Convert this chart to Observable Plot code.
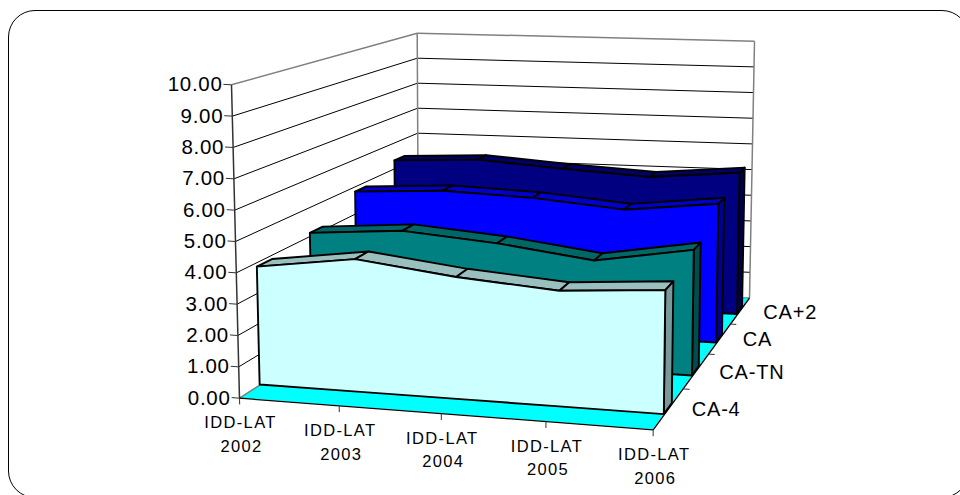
<!DOCTYPE html>
<html>
<head>
<meta charset="utf-8">
<script src="https://cdn.jsdelivr.net/npm/d3@7"></script>
<script src="https://cdn.jsdelivr.net/npm/@observablehq/plot@0.6"></script>
<style>
html,body{margin:0;padding:0;background:#fff;overflow:hidden;width:960px;height:495px}
#frame{position:absolute;left:8px;top:10px;width:959px;height:486px;border:1.6px solid #000;border-radius:27px;box-sizing:content-box}
#chart{position:absolute;left:0;top:0}
#chart svg{background:transparent;font-family:"Liberation Sans",Arial,sans-serif}
#chart svg .ylab text{letter-spacing:.7px}
#chart svg .xlab text{letter-spacing:1.35px}
#chart svg .zlab text{letter-spacing:.8px}
</style>
</head>
<body>
<div id="frame"></div>
<div id="chart"></div>
<script>
// ---- chart values ----
const years = ["IDD-LAT 2002","IDD-LAT 2003","IDD-LAT 2004","IDD-LAT 2005","IDD-LAT 2006"];
const seriesNames = ["CA-4","CA-TN","CA","CA+2"];
const valuesCA4  = [3.85,4.30,3.93,3.70,3.94];
const valuesCATN = [4.10,4.35,4.10,3.70,4.25];
const valuesCA   = [4.80,4.98,4.87,4.60,4.97];
const valuesCA2  = [5.30,5.45,5.22,5.04,5.33];
const seriesValues = [valuesCA4,valuesCATN,valuesCA,valuesCA2];
const yTicks = [0,1,2,3,4,5,6,7,8,9,10];
const faceColors = ["#CCFFFF","#008080","#0000FF","#000080"];
const topColors  = ["#99BFBF","#006666","#0000CC","#000066"];
const sideColors = ["#7A9999","#004D4D","#000099","#00004D"];

// ---- oblique view of the 3D box: x 0..1, depth 0..1, value 0..10 ----
const view = {
  fl0:[239,397.7], fl1:[231,84.3], fr0:[652.7,429.3], fr1:[656.4,107],
  bl0:[418,282.7], bl1:[416.7,32.7], br0:[749,297.5], br1:[754,40.7],
  xPersp:0.05, zPersp:0.35
};
function project(x,z,v){
  const u=v/10;
  const w=(1+view.xPersp*(1-x))*(1+view.zPersp*z);
  const mix=(i)=>{
    const f=(1-x)*(view.fl0[i]*(1-u)+view.fl1[i]*u)*(1+view.xPersp)+x*(view.fr0[i]*(1-u)+view.fr1[i]*u);
    const b=(1-x)*(view.bl0[i]*(1-u)+view.bl1[i]*u)*(1+view.xPersp)+x*(view.br0[i]*(1-u)+view.br1[i]*u);
    return (f*(1-z)+b*z*(1+view.zPersp))/w;
  };
  return [mix(0),mix(1)];
}
const seg=(a,b)=>{const p=project(...a),q=project(...b);return {x1:p[0],y1:p[1],x2:q[0],y2:q[1]};};
const pt=(x,z,v,extra)=>{const p=project(x,z,v);return {x:p[0],y:p[1],...extra};};
const xAt=i=>i/(years.length-1);
const depthFront=.088, depthBack=.155;

const gridV=yTicks.filter(t=>t>0&&t<10);
const linkOpts={x1:"x1",y1:"y1",x2:"x2",y2:"y2"};
const areaOpts={...linkOpts,z:"k",strokeLinejoin:"round"};
const marks=[];

// walls
marks.push(Plot.link(gridV.map(v=>seg([0,0,v],[0,1,v])),{...linkOpts,stroke:"#000",strokeWidth:1}));
marks.push(Plot.link(gridV.map(v=>seg([0,1,v],[1,1,v])),{...linkOpts,stroke:"#000",strokeWidth:1}));
marks.push(Plot.link([seg([0,0,10],[0,1,10]),seg([0,1,10],[1,1,10]),seg([0,1,0],[0,1,10]),seg([1,1,0],[1,1,10])],
  {...linkOpts,stroke:"#808080",strokeWidth:1.5}));

// floor
marks.push(Plot.area([{k:0,...seg([0,0,0],[0,1,0])},{k:0,...seg([1,0,0],[1,1,0])}],{...areaOpts,fill:"#00FFFF"}));
marks.push(Plot.link([seg([0,0,0],[0,1,0])],{...linkOpts,stroke:"#808080",strokeWidth:1.5}));
marks.push(Plot.link([seg([0,1,0],[1,1,0])],{...linkOpts,stroke:"#808080",strokeWidth:1}));

// series, back to front
for(let s=seriesNames.length-1;s>=0;s--){
  const vals=seriesValues[s];
  const zf=(s+depthFront*4)/4, zb=(s+depthBack*4)/4;
  const top=[];
  for(let i=0;i<vals.length-1;i++){
    top.push({k:i,...seg([xAt(i),zf,vals[i]],[xAt(i),zb,vals[i]])});
    top.push({k:i,...seg([xAt(i+1),zf,vals[i+1]],[xAt(i+1),zb,vals[i+1]])});
  }
  marks.push(Plot.area(top,{...areaOpts,fill:topColors[s],stroke:"#000",strokeWidth:1.9}));
  const last=vals[vals.length-1];
  marks.push(Plot.area([{k:0,...seg([1,zf,last],[1,zb,last])},{k:0,...seg([1,zf,0],[1,zb,0])}],
    {...areaOpts,fill:sideColors[s],stroke:"#000",strokeWidth:1.9}));
  marks.push(Plot.area(vals.map((v,i)=>({k:0,...seg([xAt(i),zf,v],[xAt(i),zf,0])})),
    {...areaOpts,fill:faceColors[s],stroke:"#000",strokeWidth:1.9}));
}

// axis lines
marks.push(Plot.link([seg([0,0,0],[0,0,10])],{...linkOpts,stroke:"#333",strokeWidth:1.5}));
marks.push(Plot.link([seg([0,0,0],[1,0,0])],{...linkOpts,stroke:"#000",strokeWidth:1.3}));
marks.push(Plot.link([seg([1,0,0],[1,1,0])],{...linkOpts,stroke:"#000",strokeWidth:1.3}));
// ticks
marks.push(Plot.link(yTicks.map(v=>seg([0,0,v],[-.02,0,v])),{...linkOpts,stroke:"#333"}));
marks.push(Plot.link(years.map((d,i)=>seg([xAt(i),0,0],[xAt(i),0,-.2])),{...linkOpts,stroke:"#333"}));
marks.push(Plot.link(seriesNames.slice(0,3).map((d,i)=>seg([1,(i+1)/4,0],[1.016,(i+1)/4,0])),{...linkOpts,stroke:"#333"}));

// labels
const textBase={x:"x",y:"y",text:"t",fill:"#000",stroke:null};
marks.push(Plot.text(yTicks.map(v=>pt(0,0,v,{t:v.toFixed(2)})),{...textBase,className:"ylab",textAnchor:"end",dx:-9,fontSize:20.5}));
marks.push(Plot.text(years.map((d,i)=>pt(xAt(i),0,0,{t:d.split(" ")[0]})),{...textBase,className:"xlab",textAnchor:"middle",dx:1,dy:25,fontSize:16.5}));
marks.push(Plot.text(years.map((d,i)=>pt(xAt(i),0,0,{t:d.split(" ")[1]})),{...textBase,className:"xlab",textAnchor:"middle",dx:2,dy:48.5,fontSize:16.5}));
marks.push(Plot.text(seriesNames.map((d,i)=>pt(1,(i+.5)/4,0,{t:d})),{...textBase,className:"zlab",textAnchor:"start",dx:23,dy:1.5,fontSize:20}));

const chart=Plot.plot({
  width:960,height:495,margin:0,
  x:{domain:[0,960],range:[0,960],axis:null},
  y:{domain:[0,495],range:[0,495],axis:null},
  marks
});
document.getElementById("chart").appendChild(chart);
</script>
</body>
</html>
